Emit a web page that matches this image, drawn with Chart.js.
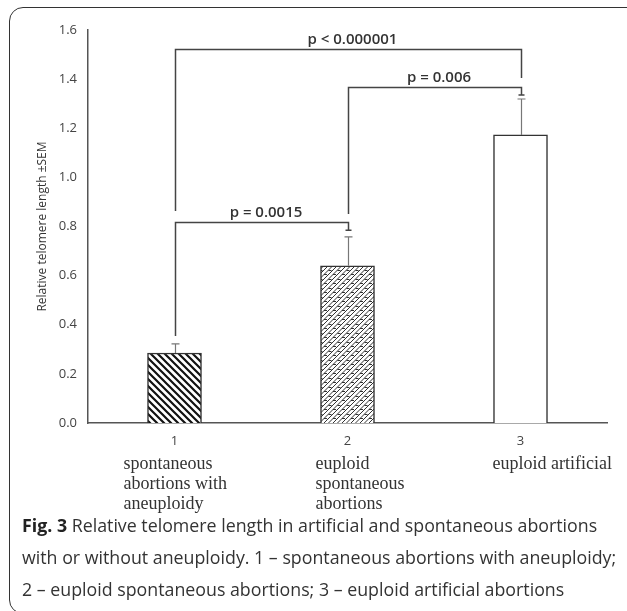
<!DOCTYPE html>
<html>
<head>
<meta charset="utf-8">
<script src="https://cdn.jsdelivr.net/npm/chart.js@4.4.0/dist/chart.umd.min.js"></script>
<style>
  html, body { margin: 0; padding: 0; background: #fff; }
  #wrap { position: relative; width: 627px; height: 611px; overflow: hidden; }
  #frame { position: absolute; left: 9px; top: 7px; width: 660px; height: 607px; border: 1.5px solid #333; border-radius: 14px; box-sizing: border-box; }
  #myChart { position: absolute; left: 0; top: 0; }
  #caption { position: absolute; left: 22px; top: 509px; white-space: nowrap; font-family: "Open Sans", sans-serif; font-size: 17.8px; line-height: 32px; color: #333; }
  #caption b { color: #222; }
</style>
</head>
<body>
<div id="wrap">
  <div id="frame"></div>
  <canvas id="myChart" width="627" height="520"></canvas>
  <div id="caption"><b>Fig. 3</b> Relative telomere length in artificial and spontaneous abortions<br>with or without aneuploidy. 1 – spontaneous abortions with aneuploidy;<br>2 – euploid spontaneous abortions; 3 – euploid artificial abortions</div>
</div>
<script>
/*-------------------------
データ
--------------------------*/
var categories = ["1", "2", "3"];
var descriptions = [
  ["spontaneous", "abortions with", "aneuploidy"],
  ["euploid", "spontaneous", "abortions"],
  ["euploid artificial"]
];
var means = [0.285, 0.640, 1.173];
var sem = [0.037, 0.118, 0.146];
var yTickStep = 0.2;
var yMax = 1.6;

// 有意差のブラケット（y は値の単位）
var comparisons = [
  { from: 0, to: 2, y: 1.523, leftEnd: 0.863, rightEnd: 1.405, cap: false, label: "p < 0.000001" },
  { from: 1, to: 2, y: 1.368, leftEnd: 0.851, rightEnd: 1.335, cap: true, label: "p = 0.006" },
  { from: 0, to: 1, y: 0.818, leftEnd: 0.354, rightEnd: 0.785, cap: true, label: "p = 0.0015" }
];

/*-------------------------
ハッチング
--------------------------*/
function stripePattern() {
  var c = document.createElement("canvas");
  c.width = 7; c.height = 7;
  var g = c.getContext("2d");
  g.fillStyle = "#fff"; g.fillRect(0, 0, 7, 7);
  g.strokeStyle = "#111"; g.lineWidth = 2.2;
  g.beginPath();
  g.moveTo(-1, -1); g.lineTo(8, 8);
  g.moveTo(-8, -1); g.lineTo(1, 8);
  g.moveTo(6, -1); g.lineTo(15, 8);
  g.stroke();
  return g.createPattern(c, "repeat");
}

function brickPattern() {
  var c = document.createElement("canvas");
  c.width = 9; c.height = 9;
  var g = c.getContext("2d");
  g.fillStyle = "#fff"; g.fillRect(0, 0, 9, 9);
  g.strokeStyle = "#333"; g.lineWidth = 1;
  g.beginPath();
  g.moveTo(-1, 10); g.lineTo(10, -1);
  g.moveTo(-1, 5.5); g.lineTo(5.5, -1);
  g.moveTo(3.5, 10); g.lineTo(10, 3.5);
  g.moveTo(0, 4.5); g.lineTo(3, 4.5);
  g.moveTo(4.5, 0.5); g.lineTo(7.5, 0.5);
  g.stroke();
  return g.createPattern(c, "repeat");
}

/*-------------------------
エラーバー・ブラケット・ラベル
--------------------------*/
var overlay = {
  id: "overlay",
  afterDatasetsDraw: function (chart) {
    var ctx = chart.ctx;
    var x = chart.scales.x, y = chart.scales.y;
    ctx.save();

    // error bars (上側のみ)
    ctx.strokeStyle = "#777";
    ctx.lineWidth = 1.2;
    means.forEach(function (m, i) {
      var px = Math.round(x.getPixelForValue(i)) + 0.5;
      var top = y.getPixelForValue(m + sem[i]);
      ctx.beginPath();
      ctx.moveTo(px, y.getPixelForValue(m));
      ctx.lineTo(px, top);
      ctx.moveTo(px - 4, top);
      ctx.lineTo(px + 4, top);
      ctx.stroke();
    });

    // brackets
    ctx.strokeStyle = "#444";
    ctx.lineWidth = 1.5;
    ctx.fillStyle = "#333";
    ctx.font = "600 15px 'Open Sans'";
    ctx.textAlign = "center";
    ctx.textBaseline = "alphabetic";
    comparisons.forEach(function (c) {
      var x1 = Math.round(x.getPixelForValue(c.from)) + 0.5;
      var x2 = Math.round(x.getPixelForValue(c.to)) + 0.5;
      var yt = Math.round(y.getPixelForValue(c.y)) + 0.5;
      var yr = y.getPixelForValue(c.rightEnd);
      ctx.beginPath();
      ctx.moveTo(x1, y.getPixelForValue(c.leftEnd));
      ctx.lineTo(x1, yt);
      ctx.lineTo(x2, yt);
      ctx.lineTo(x2, yr);
      if (c.cap) {
        ctx.moveTo(x2 - 3, yr);
        ctx.lineTo(x2 + 3, yr);
      }
      ctx.stroke();
      ctx.fillText(c.label, (x1 + x2) / 2 + 4, yt - 6);
    });

    // category descriptions
    var offsets = [-51, -32, -28];
    ctx.fillStyle = "#333";
    ctx.font = "18px 'Liberation Serif'";
    ctx.textAlign = "left";
    ctx.textBaseline = "middle";
    descriptions.forEach(function (lines, i) {
      var px = x.getPixelForValue(i) + offsets[i];
      lines.forEach(function (t, j) {
        ctx.fillText(t, px, chart.chartArea.bottom + 41 + j * 20);
      });
    });
    ctx.restore();
  }
};

var ctx = document.getElementById("myChart").getContext("2d");
var myChart = new Chart(ctx, {
  type: "bar",
  data: {
    labels: categories,
    datasets: [{
      data: means,
      backgroundColor: [stripePattern(), brickPattern(), "#fff"],
      borderColor: "#333",
      borderWidth: 1.5,
      barThickness: 54
    }]
  },
  options: {
    responsive: false,
    animation: false,
    layout: {
      padding: { left: 10, right: 20, top: 30, bottom: 0 }
    },
    plugins: {
      legend: { display: false },
      tooltip: { enabled: false }
    },
    scales: {
      x: {
        grid: { display: false, drawTicks: false },
        border: { color: "#555", width: 1.5 },
        ticks: {
          padding: 10,
          color: "#444",
          font: { family: "Open Sans", size: 13 }
        },
        afterFit: function (scale) { scale.height = 97; }
      },
      y: {
        min: 0,
        max: yMax,
        grid: { display: false, drawTicks: false },
        border: { color: "#555", width: 1.5 },
        ticks: {
          stepSize: yTickStep,
          padding: 11,
          color: "#444",
          font: { family: "Open Sans", size: 13 },
          callback: function (v) { return v.toFixed(1); }
        },
        title: {
          display: true,
          text: "Relative telomere length ±SEM",
          color: "#333",
          font: { family: "Open Sans", size: 12 },
          padding: { top: 25, bottom: 0 }
        },
        afterFit: function (scale) { scale.width = 78; }
      }
    }
  },
  plugins: [overlay]
});
</script>
</body>
</html>
